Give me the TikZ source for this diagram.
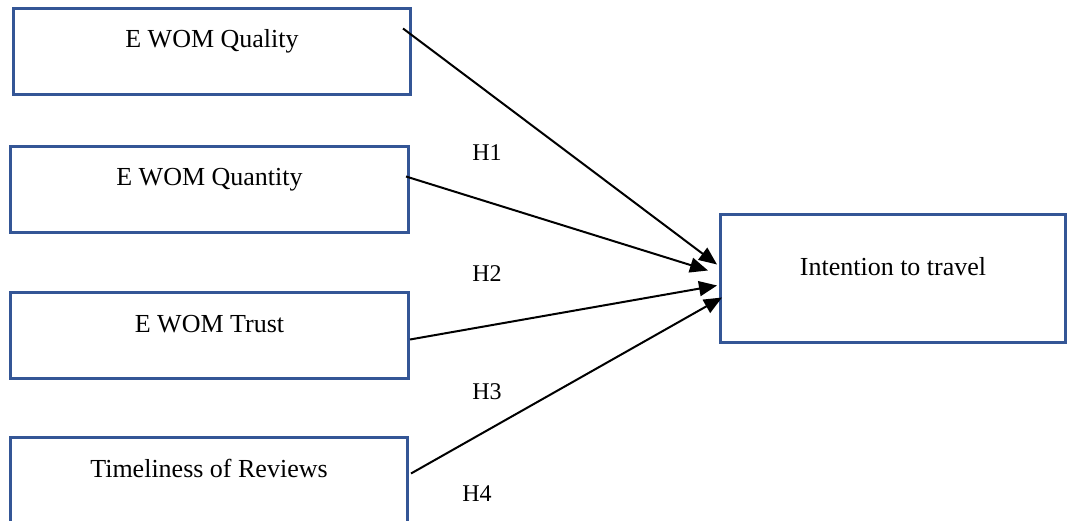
\documentclass[tikz,border=0pt]{standalone}
\usepackage{fontspec}
\setmainfont{Liberation Serif}
\usetikzlibrary{arrows.meta,calc}
\definecolor{boxblue}{RGB}{52,86,150}
\begin{document}
\begin{tikzpicture}[x=1pt,y=-1pt,
  box/.style={draw=boxblue,line width=3pt,rectangle,anchor=north west,
    inner sep=0pt,font=\fontsize{26}{30}\selectfont,text height=17pt,text depth=24pt},
  hyp/.style={font=\fontsize{24}{28}\selectfont,inner sep=0pt},
  arr/.style={draw=black,line width=2pt,-{Triangle[length=18pt,width=15pt]}}]
\useasboundingbox (0,0) rectangle (1067,521);
\clip (0,0) rectangle (1067,521);
\node[box,minimum width=397pt,minimum height=86pt] (qual) at (12,7) {E WOM Quality};
\node[box,minimum width=398pt,minimum height=86pt] (quan) at (9,145) {E WOM Quantity};
\node[box,minimum width=398pt,minimum height=86pt] (trust) at (9,291) {E WOM Trust};
\node[box,minimum width=397pt,minimum height=86pt] (time) at (9,436) {Timeliness of Reviews};
\node[box,minimum width=345pt,minimum height=128pt] (int) at (719,213) {Intention to travel};
\node[hyp] (h1) at (487,153) {H1};
\node[hyp] (h2) at (487,274) {H2};
\node[hyp] (h3) at (487,392) {H3};
\node[hyp] (h4) at (477,494) {H4};
\draw[arr] ([xshift=-9pt,yshift=23pt]qual.east) -- ([xshift=-2pt,yshift=14pt]int.west);
\draw[arr] ([xshift=-4pt,yshift=13pt]quan.east) -- ([xshift=-11pt,yshift=8pt]int.west);
\draw[arr] ([yshift=-4pt]trust.east) -- ([xshift=-2pt,yshift=-7pt]int.west);
\draw[arr] ([xshift=2pt,yshift=7pt]time.east) -- ([xshift=3pt,yshift=-19pt]int.west);
\end{tikzpicture}
\end{document}
